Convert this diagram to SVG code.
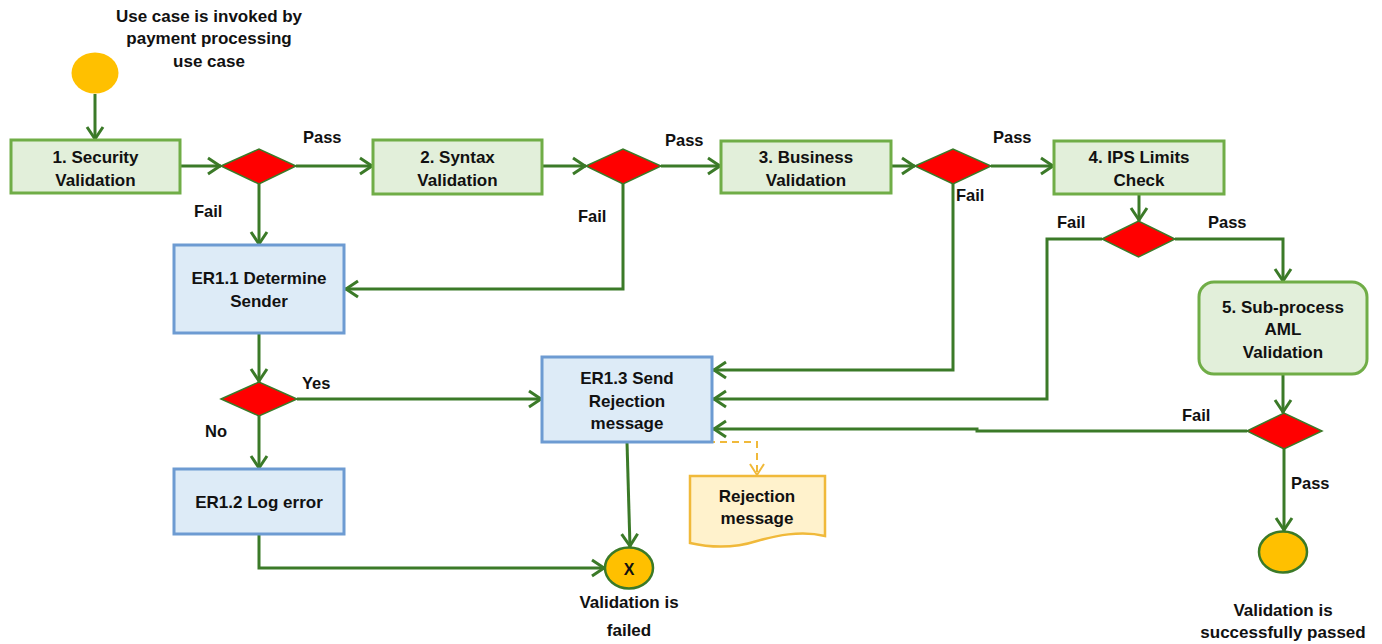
<svg xmlns="http://www.w3.org/2000/svg" width="1382" height="644" viewBox="0 0 1382 644">
  <style>
    text { font-family: "Liberation Sans", Arial, sans-serif; font-weight: bold; fill: #111; }
    .t { font-size: 17px; text-anchor: middle; }
    .lbl { font-size: 16.5px; }
    .step { fill: #E2EFDA; stroke: #70AD47; stroke-width: 3; }
    .er { fill: #DDEBF7; stroke: #6D9BD2; stroke-width: 3; }
    .dec { fill: #FF0000; stroke: #3B7A28; stroke-width: 1.5; }
    .term { fill: #FFC000; stroke: #3B7A28; stroke-width: 2.5; }
    .flow { fill: none; stroke: #3B7A28; stroke-width: 3; marker-end: url(#arr); }
    .data { fill: none; stroke: #F0B93A; stroke-width: 2; stroke-dasharray: 7 5; marker-end: url(#arrData); }
  </style>
  <defs>
    <marker id="arr" viewBox="-16 -10 18 20" refX="0" refY="0" markerWidth="18" markerHeight="20" markerUnits="userSpaceOnUse" orient="auto">
      <path d="M-13,-8 L-1,0 L-13,8" fill="none" stroke="#3B7A28" stroke-width="3" stroke-linejoin="round"/>
    </marker>
    <marker id="arrData" viewBox="-16 -10 18 20" refX="0" refY="0" markerWidth="18" markerHeight="20" markerUnits="userSpaceOnUse" orient="auto">
      <path d="M-12,-7 L-1,0 L-12,7" fill="none" stroke="#F0B93A" stroke-width="2"/>
    </marker>
  </defs>

  <!-- connectors -->
  <g id="connectors">
    <path class="flow" d="M95,94 V140"/>
    <path class="flow" d="M180,166 H221"/>
    <path class="flow" d="M296,166 H373"/>
    <path class="flow" d="M259,184 V245"/>
    <path class="flow" d="M542,166 H586"/>
    <path class="flow" d="M661,166 H721"/>
    <path class="flow" d="M623,184 V289 H345"/>
    <path class="flow" d="M891,166 H915"/>
    <path class="flow" d="M991,166 H1054"/>
    <path class="flow" d="M953,184 V370 H713"/>
    <path class="flow" d="M1139,194 V221"/>
    <path class="flow" d="M1102,239 H1047 V399 H713"/>
    <path class="flow" d="M1175,239 H1283 V282"/>
    <path class="flow" d="M1283,375 V413"/>
    <path class="flow" d="M1247,431 H977 V429 H713"/>
    <path class="flow" d="M1284,449 V531"/>
    <path class="flow" d="M259,333 V382"/>
    <path class="flow" d="M297,399 H542"/>
    <path class="flow" d="M259,416 V469"/>
    <path class="flow" d="M259,534 V568 H605"/>
    <path class="flow" d="M627,442 L630,547"/>
    <path class="data" d="M672,442 H757 V476"/>
  </g>

  <!-- start -->
  <g id="start">
    <ellipse cx="95" cy="73" rx="23.5" ry="20.5" fill="#FFC000"/>
    <text class="t" x="209" y="22">Use case is invoked by</text>
    <text class="t" x="209" y="44">payment processing</text>
    <text class="t" x="209" y="67">use case</text>
  </g>

  <g id="security">
    <rect class="step" x="11" y="140" width="169" height="53"/>
    <text class="t" x="95.5" y="163">1. Security</text>
    <text class="t" x="95.5" y="186">Validation</text>
  </g>
  <g id="d-security">
    <polygon class="dec" points="221,166 259,149 296,166 259,184"/>
  </g>

  <g id="syntax">
    <rect class="step" x="373" y="140" width="169" height="54"/>
    <text class="t" x="457.5" y="163">2. Syntax</text>
    <text class="t" x="457.5" y="186">Validation</text>
  </g>
  <g id="d-syntax">
    <polygon class="dec" points="586,166 623,149 661,166 623,184"/>
  </g>

  <g id="business">
    <rect class="step" x="721" y="141" width="170" height="52"/>
    <text class="t" x="806" y="163">3. Business</text>
    <text class="t" x="806" y="186">Validation</text>
  </g>
  <g id="d-business">
    <polygon class="dec" points="915,166 953,149 991,166 953,184"/>
  </g>

  <g id="ips">
    <rect class="step" x="1054" y="141" width="170" height="53"/>
    <text class="t" x="1139" y="163">4. IPS Limits</text>
    <text class="t" x="1139" y="186">Check</text>
  </g>
  <g id="d-ips">
    <polygon class="dec" points="1102,239 1138.5,221 1175,239 1138.5,257"/>
  </g>

  <g id="aml">
    <rect class="step" x="1199" y="282" width="168" height="92" rx="15"/>
    <text class="t" x="1283" y="313">5. Sub-process</text>
    <text class="t" x="1283" y="335">AML</text>
    <text class="t" x="1283" y="358">Validation</text>
  </g>
  <g id="d-aml">
    <polygon class="dec" points="1247,431 1284,413 1322,431 1284,449"/>
  </g>

  <g id="success">
    <ellipse class="term" cx="1283" cy="552" rx="24" ry="20.5"/>
    <text class="t" x="1283" y="616">Validation is</text>
    <text class="t" x="1283" y="638">successfully passed</text>
  </g>

  <g id="er11">
    <rect class="er" x="174" y="245" width="170" height="88"/>
    <text class="t" x="259" y="284">ER1.1 Determine</text>
    <text class="t" x="259" y="307">Sender</text>
  </g>
  <g id="d-sender">
    <polygon class="dec" points="221,399 259,382 297,399 259,416"/>
  </g>

  <g id="er12">
    <rect class="er" x="174" y="469" width="170" height="65"/>
    <text class="t" x="259" y="508">ER1.2 Log error</text>
  </g>

  <g id="er13">
    <rect class="er" x="542" y="357" width="170" height="85"/>
    <text class="t" x="627" y="384">ER1.3 Send</text>
    <text class="t" x="627" y="407">Rejection</text>
    <text class="t" x="627" y="429">message</text>
  </g>

  <g id="rejection-doc">
    <path d="M690,476 H825 V536 C800,530 775,536 757,541 C735,548 712,548 690,543 Z" fill="#FFF2CC" stroke="#F0B93A" stroke-width="2.5"/>
    <text class="t" x="757" y="502">Rejection</text>
    <text class="t" x="757" y="524">message</text>
  </g>

  <g id="failed">
    <ellipse class="term" cx="629" cy="568" rx="24" ry="20.5"/>
    <text class="t" x="629" y="575" style="font-size:16px">X</text>
    <text class="t" x="629" y="608">Validation is</text>
    <text class="t" x="629" y="636">failed</text>
  </g>

  <!-- branch labels -->
  <g id="labels">
    <text class="lbl" x="303" y="143">Pass</text>
    <text class="lbl" x="194" y="217">Fail</text>
    <text class="lbl" x="665" y="146">Pass</text>
    <text class="lbl" x="578" y="222">Fail</text>
    <text class="lbl" x="993" y="143">Pass</text>
    <text class="lbl" x="956" y="201">Fail</text>
    <text class="lbl" x="1057" y="228">Fail</text>
    <text class="lbl" x="1208" y="228">Pass</text>
    <text class="lbl" x="1182" y="421">Fail</text>
    <text class="lbl" x="1291" y="489">Pass</text>
    <text class="lbl" x="302" y="389">Yes</text>
    <text class="lbl" x="205" y="437">No</text>
  </g>
</svg>
